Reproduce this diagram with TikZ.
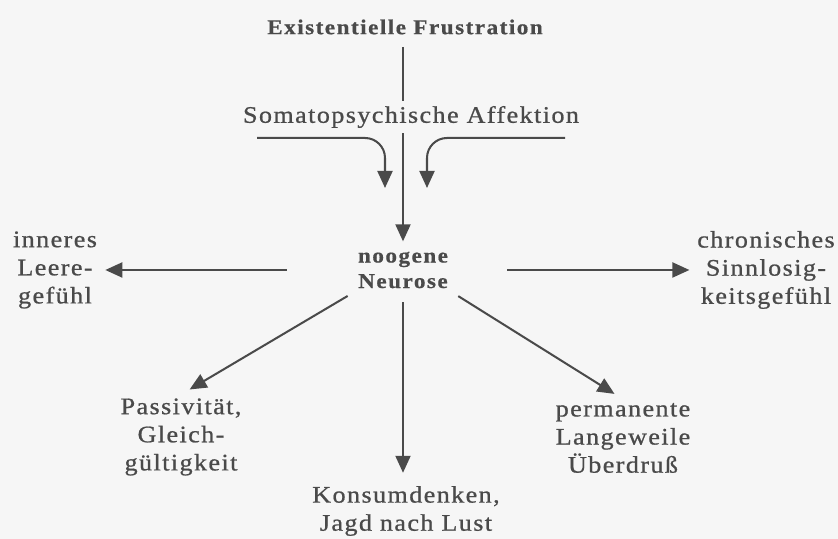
\documentclass[tikz,border=0pt]{standalone}
\usepackage{fontspec}
\setmainfont{Liberation Serif}[FakeStretch=1.1]
\usetikzlibrary{arrows.meta}
\definecolor{ink}{RGB}{74,74,74}
\definecolor{paper}{RGB}{246,246,246}
\tikzset{
  ntext/.style={ink,font=\fontsize{13.5}{16}\selectfont\addfontfeatures{LetterSpace=6,FakeBold=0.8},align=center,inner sep=2pt},
  nbold/.style={ink,font=\fontsize{12}{14.5}\selectfont\bfseries\addfontfeatures{LetterSpace=7,FakeBold=0.6},align=center,inner sep=2pt},
  narrow/.style={ink,line width=1.15pt,-{Triangle[length=3.4mm,width=3mm]}},
}
\begin{document}
\begin{tikzpicture}[scale=1.0]
  \fill[paper] (0,0) rectangle (16.76,10.78);
  \useasboundingbox (0,0) rectangle (16.76,10.78);
  % ---- top: frustration and affection ----
  \node[nbold] (frust) at (8.10,10.24) {Existentielle Frustration};
  \node[nbold] (neur) at (8.06,5.38) {noogene\\Neurose};
  \draw[narrow,shorten <=0.17cm,shorten >=0.13cm] (frust.south -| neur.north) -- (neur.north);
  \node[ntext,fill=paper,inner ysep=3pt] (soma) at (8.22,8.44) {Somatopsychische Affektion};
  \coordinate (somaL) at (5.14,8.02);
  \coordinate (somaR) at (11.30,8.02);
  \coordinate (tipL) at (7.70,7.02);
  \coordinate (tipR) at (8.54,7.02);
  \draw[narrow,rounded corners=0.4cm] (somaL) -| (tipL);
  \draw[narrow,rounded corners=0.4cm] (somaR) -| (tipR);
  % ---- effects ----
  \node[ntext] (leere) at (1.10,5.38) {inneres\\Leere-\\gefühl};
  \node[ntext] (sinn) at (15.32,5.38) {chronisches\\Sinnlosig-\\keitsgefühl};
  \node[ntext] (passiv) at (3.62,2.04) {Passivität,\\Gleich-\\gültigkeit};
  \node[ntext] (lange) at (12.46,2.02) {permanente\\Langeweile\\Überdruß};
  \node[ntext] (konsum) at (8.12,0.56) {Konsumdenken,\\Jagd nach Lust};
  \draw[narrow,shorten <=1.35cm,shorten >=0.09cm] (neur.west) -- (leere.east);
  \draw[narrow,shorten <=1.11cm,shorten >=0.08cm] (neur.east) -- (sinn.west);
  \draw[narrow,shorten <=0.15cm,shorten >=0.2cm] (neur.south west) -- (passiv.north);
  \draw[narrow,shorten <=0.15cm,shorten >=0.2cm] (neur.south east) -- (lange.north);
  \draw[narrow,shorten <=0.2cm,shorten >=0.19cm] (neur.south) -- (neur.south |- konsum.north);
\end{tikzpicture}
\end{document}
